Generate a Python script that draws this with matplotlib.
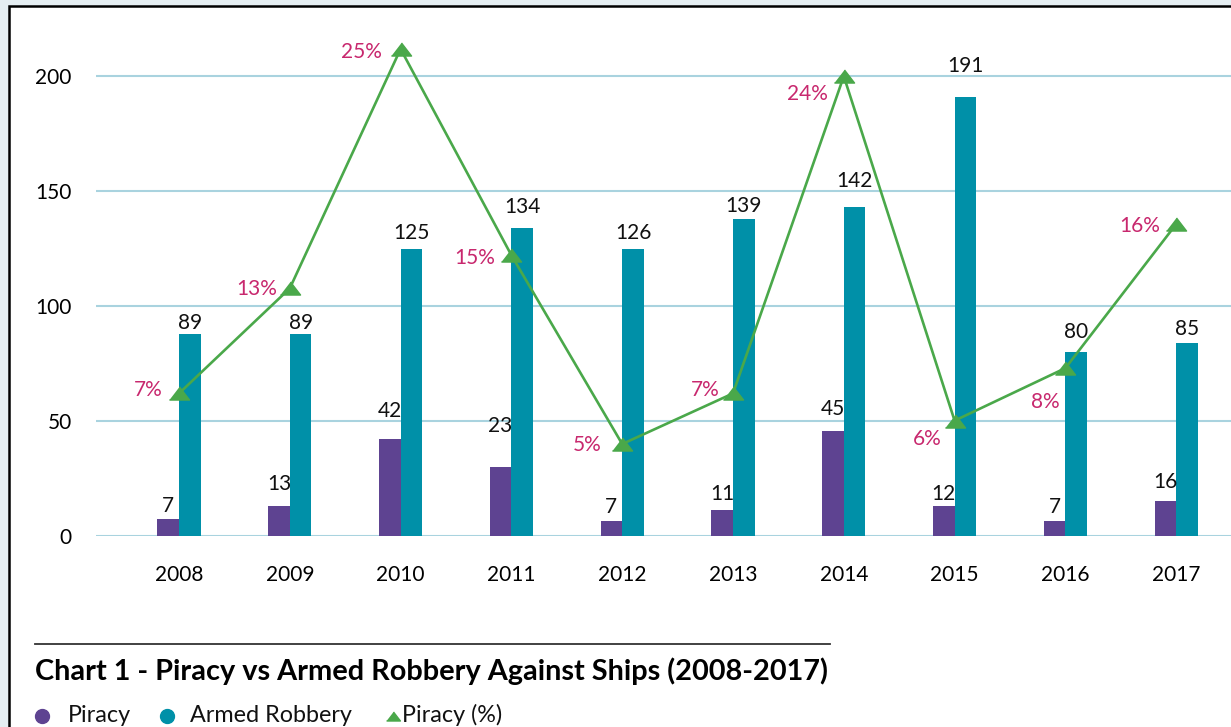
import matplotlib
matplotlib.use("Agg")
import matplotlib.pyplot as plt
import numpy as np
from matplotlib.lines import Line2D
from matplotlib.patches import Rectangle

# ---------------- data ----------------
years = ["2008", "2009", "2010", "2011", "2012", "2013", "2014", "2015", "2016", "2017"]
piracy = [7, 13, 42, 30, 6.5, 11, 45.5, 13, 6.5, 15]          # bar heights as drawn
piracy_labels = ["7", "13", "42", "23", "7", "11", "45", "12", "7", "16"]
armed = [88, 88, 125, 134, 125, 138, 143, 191, 80, 84]        # bar heights as drawn
armed_labels = ["89", "89", "125", "134", "126", "139", "142", "191", "80", "85"]
piracy_pct = [7.3, 12.7, 25.0, 14.4, 4.7, 7.3, 23.6, 5.9, 8.6, 16.0]
piracy_pct_labels = ["7%", "13%", "25%", "15%", "5%", "7%", "24%", "6%", "8%", "16%"]
yticks = [0, 50, 100, 150, 200]

# ---------------- style ----------------
W, H = 1231, 727
FONT = "Lato"
C_PIR = "#5e4391"
C_ARM = "#0090a8"
C_LINE = "#4aa84a"
C_PCT = "#c8286e"
C_GRID = "#a9d3df"

# gaps (px) between bar top and label baseline
pir_gap = [7, 16, 22, 35, 8, 10, 16, 6, 8, 13]
arm_gap = [5, 5, 10, 15, 10, 7, 20, 25, 14, 8]
# percent label offsets (px): right edge dx, glyph-centre dy (up)
pct_dx = [-16, -13, -19, -16, -21, -13, -16, -13, -6, -16]
pct_dy = [5, 1, -2, -1, 1, 5, -16, -17, -32, 0]

plt.rcParams["font.family"] = [FONT, "DejaVu Sans"]

fig = plt.figure(figsize=(W / 100, H / 100), dpi=100)
fig.patch.set_facecolor("#e5eef2")

def fx(px):
    return px / W

def fy(py):
    return 1 - py / H

# white framed panel
fig.add_artist(Rectangle((fx(9), fy(740)), 1.2, (740 - 6) / H, transform=fig.transFigure,
                         facecolor="white", edgecolor="black", linewidth=1.8, zorder=0))

# axes geometry
cat_px = 110.8
x0_px = 179.0
left_px = x0_px - 0.75 * cat_px
right_px = x0_px + 9.75 * cat_px
y0_px = 535.5
per_unit = (535.5 - 76.5) / 200.0
ymax = 220
ax = fig.add_axes([fx(left_px), fy(y0_px), (right_px - left_px) / W, ymax * per_unit / H])
ax.set_xlim(-0.75, 9.75)
ax.set_ylim(0, ymax)
ax.patch.set_alpha(0)
for s in ax.spines.values():
    s.set_visible(False)

x = np.arange(len(years))
bw = 0.195
ax.set_yticks(yticks)
ax.yaxis.grid(True, color=C_GRID, linewidth=1.5)
ax.set_axisbelow(True)
ax.tick_params(axis="y", length=0, pad=17.3, labelsize=15)
ax.set_xticks(x)
ax.set_xticklabels(years)
ax.tick_params(axis="x", length=0, pad=21, labelsize=15)

ax.bar(x - bw / 2, piracy, width=bw, color=C_PIR, zorder=2)
ax.bar(x + bw / 2, armed, width=bw, color=C_ARM, zorder=2)

for i in range(len(years)):
    ax.annotate(piracy_labels[i], (x[i] - bw / 2, piracy[i]), xytext=(0, pir_gap[i]),
                textcoords="offset pixels", ha="center", va="baseline", fontsize=15, color="#111111")
    ax.annotate(armed_labels[i], (x[i] + bw / 2, armed[i]), xytext=(0, arm_gap[i]),
                textcoords="offset pixels", ha="center", va="baseline", fontsize=15, color="#111111")

ax2 = ax.twinx()
ax2.set_ylim(0, ymax / 8.48)
ax2.axis("off")
tri = [(-1, -0.65), (1, -0.65), (0, 0.65)]
ax2.plot(x, piracy_pct, color=C_LINE, linewidth=1.9, marker=tri, markersize=14.5,
         markerfacecolor=C_LINE, markeredgecolor=C_LINE, zorder=3, clip_on=False)
for i in range(len(years)):
    ax2.annotate(piracy_pct_labels[i], (x[i], piracy_pct[i]), xytext=(pct_dx[i], pct_dy[i] - 7.5),
                 textcoords="offset pixels", ha="right", va="baseline", fontsize=15, color=C_PCT)

# bottom caption area
fig.add_artist(Line2D([fx(35), fx(830)], [fy(644), fy(644)], transform=fig.transFigure,
                      color="#333333", linewidth=1.3))

renderer = fig.canvas.get_renderer()

def fit_text(xp, yp, s, target_w, size, **kw):
    t = fig.text(fx(xp), fy(yp), s, fontsize=size, va="baseline", ha="left", **kw)
    w = t.get_window_extent(renderer).width
    t.set_fontsize(size * target_w / w)
    return t

fit_text(35, 680, "Chart 1 - Piracy vs Armed Robbery Against Ships (2008-2017)", 793, 17,
         fontweight="bold", color="#000000")

leg_size_t = fig.text(0, 0, "Armed Robbery", fontsize=14)
lw_ = leg_size_t.get_window_extent(renderer).width
leg_size = 14 * 163 / lw_
leg_size_t.remove()

fig.add_artist(Line2D([fx(42)], [fy(715.5)], transform=fig.transFigure, marker="o", markersize=10,
                      color=C_PIR, linestyle="none"))
fig.add_artist(Line2D([fx(167)], [fy(715.5)], transform=fig.transFigure, marker="o", markersize=10,
                      color=C_ARM, linestyle="none"))
fig.add_artist(Line2D([fx(393)], [fy(715.5)], transform=fig.transFigure, marker=tri, markersize=10,
                      color=C_LINE, linestyle="none"))
fig.text(fx(68), fy(722), "Piracy", fontsize=leg_size, va="baseline", color="#111111")
fig.text(fx(190), fy(722), "Armed Robbery", fontsize=leg_size, va="baseline", color="#111111")
fig.text(fx(402), fy(722), "Piracy (%)", fontsize=leg_size, va="baseline", color="#111111")

fig.savefig("out.png", dpi=100, facecolor=fig.get_facecolor())
